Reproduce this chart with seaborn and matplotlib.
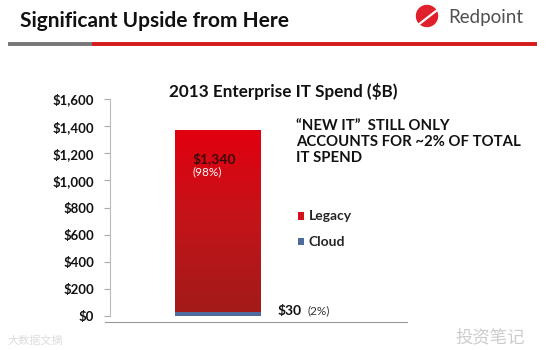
import numpy as np
import pandas as pd
import matplotlib
matplotlib.use("Agg")
import matplotlib.pyplot as plt
import seaborn as sns
from matplotlib.patches import Ellipse
from matplotlib.colors import LinearSegmentedColormap

# ---- data ----
categories = ["2013"]
legacy = [1340]
cloud = [30]
legacy_pct = ["(98%)"]
cloud_pct = ["(2%)"]
series = ["Legacy", "Cloud"]
yticks = [0, 200, 400, 600, 800, 1000, 1200, 1400, 1600]

sns.set_theme(style="white")
plt.rcParams['font.family'] = ['Lato', 'Noto Sans CJK SC', 'DejaVu Sans']

fig = plt.figure(figsize=(5.49, 3.5), dpi=100)
W, H = 549, 350
ax = fig.add_axes([110 / W, 34 / H, 297 / W, 217 / H])

df = pd.DataFrame({"cat": categories,
                   "total": [l + c for l, c in zip(legacy, cloud)],
                   "cloud": cloud})

sns.barplot(data=df, x="cat", y="total", color="#d4121a", width=0.8,
            saturation=1, ax=ax, label=series[0], linewidth=0, edgecolor="none")
sns.barplot(data=df, x="cat", y="cloud", color="#4d6c9c", width=0.8,
            saturation=1, ax=ax, label=series[1], linewidth=0, edgecolor="none")

XL = (-1.005, 1.758)
ax.set_xlim(*XL)
ax.set_ylim(0, 1600)

# gradient on the legacy bar
legacy_patch = ax.patches[0]
x0 = legacy_patch.get_x()
w = legacy_patch.get_width()
top = legacy_patch.get_height()
cmap = LinearSegmentedColormap.from_list("redgrad", ["#a11b19", "#c2141a", "#e2000f"])
grad = np.linspace(0, 1, 256).reshape(-1, 1)
im = ax.imshow(grad, extent=[x0, x0 + w, 0, top], origin="lower",
               cmap=cmap, aspect="auto", zorder=legacy_patch.get_zorder() + 0.1)
im.set_clip_path(legacy_patch)
ax.patches[1].set_zorder(legacy_patch.get_zorder() + 0.2)
ax.set_xlim(*XL)
ax.set_ylim(0, 1600)

ax.set_yticks(yticks)
ax.set_yticklabels([f"${v:,}" for v in yticks], fontsize=9.5, fontweight="bold",
                   color="#111111")
ax.set_xticks([])
ax.set_xlabel("")
ax.set_ylabel("")
ax.tick_params(axis="y", left=True, length=4, width=0.8, color="#aaaaaa", pad=7.5)
for s in ["top", "right"]:
    ax.spines[s].set_visible(False)
ax.spines["left"].set_color("#bbbbbb")
ax.spines["left"].set_linewidth(0.8)
ax.spines["left"].set_bounds(0, 1600)
ax.spines["bottom"].set_color("#999999")
ax.spines["bottom"].set_linewidth(0.8)
ax.spines["bottom"].set_position(("outward", 4.3))
ax.spines["bottom"].set_bounds(XL[0] - 0.05, XL[1])

# bar labels
ax.text(x0 + 0.16, 1160, f"${legacy[0]:,}", fontsize=10, fontweight="bold",
        color="#3a0a0a", va="center", ha="left")
ax.text(x0 + 0.16, 1060, legacy_pct[0], fontsize=8.5, color="white",
        va="center", ha="left")
ax.text(x0 + w + 0.15, 40, f"${cloud[0]}", fontsize=10, fontweight="bold",
        color="#111111", va="center", ha="left")
ax.text(x0 + w + 0.43, 35, cloud_pct[0], fontsize=8.5, color="#333333",
        va="center", ha="left")

# legend
handles, labels = ax.get_legend_handles_labels()
leg = ax.legend(handles, labels, loc="upper left",
                bbox_to_anchor=(285 / W, 1 - 198 / H), bbox_transform=fig.transFigure,
                frameon=False, handlelength=0.5, handleheight=0.5,
                handletextpad=0.3, labelspacing=1.0,
                prop={"weight": "bold", "size": 10})

# chart title
fig.text(283 / W, 1 - 92 / H, "2013 Enterprise IT Spend ($B)", fontsize=12.3,
         fontweight="bold", ha="center", va="center", color="#111111")

# annotation block
fig.text(296 / W, 1 - 119 / H, "\u201cNEW IT\u201d  STILL ONLY\nACCOUNTS FOR ~2% OF TOTAL\nIT SPEND",
         fontsize=10.7, fontweight="bold", ha="left", va="top", color="#111111",
         linespacing=1.2)

# header
fig.text(20 / W, 1 - 21 / H, "Significant Upside from Here", fontsize=15,
         fontweight="bold", ha="left", va="center", color="#111111")
fig.text(448 / W, 1 - 17 / H, "Redpoint", fontsize=13.5,
         ha="left", va="center", color="#505050")
logo = Ellipse((427 / W, 1 - 16 / H), 21 / W, 21 / H, transform=fig.transFigure,
               color="#e0202a")
fig.patches.append(logo)
fig.lines.append(plt.Line2D([418 / W, 436 / W], [1 - 25 / H, 1 - 11 / H],
                            transform=fig.transFigure, color="white", lw=1.6))
fig.lines.append(plt.Line2D([8 / W, 92 / W], [1 - 44 / H] * 2, transform=fig.transFigure,
                            color="#777777", lw=2.8, solid_capstyle="butt"))
fig.lines.append(plt.Line2D([92 / W, 537 / W], [1 - 44 / H] * 2, transform=fig.transFigure,
                            color="#d41a1a", lw=2.8, solid_capstyle="butt"))

# watermark
fig.text(455 / W, 1 - 337 / H, "投资笔记", fontsize=12.5, color="#cccccc",
         ha="left", va="center", family=["Noto Sans CJK SC", "DejaVu Sans"])
fig.text(7 / W, 1 - 341 / H, "大数据文摘", fontsize=8, color="#dddddd",
         ha="left", va="center", family=["Noto Sans CJK SC", "DejaVu Sans"])

fig.savefig("out.png", dpi=100)
